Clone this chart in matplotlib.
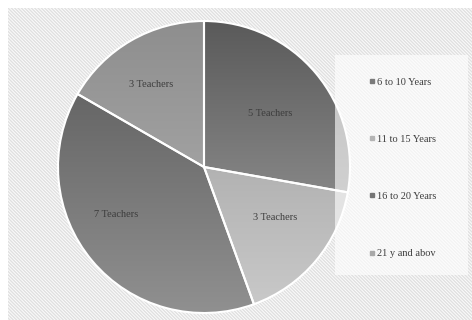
import numpy as np
import matplotlib
matplotlib.use('Agg')
import matplotlib.pyplot as plt
from matplotlib.patches import Rectangle
from matplotlib.colors import LinearSegmentedColormap

# data
categories = ['6 to 10 Years', '11 to 15 Years', '16 to 20 Years', '21 y and abov']
teachers = [5, 3, 7, 3]
labels = ['5 Teachers', '3 Teachers', '7 Teachers', '3 Teachers']
# top / bottom shades of the gradient fill for each slice
top_colors = ['#5a5a5a', '#9a9a9a', '#585858', '#8e8e8e']
bottom_colors = ['#a4a4a4', '#cacaca', '#909090', '#b4b4b4']
legend_colors = ['#7a7a7a', '#b4b4b4', '#747474', '#a8a8a8']
# small nudges of the slice labels (axes units)
label_shift = [(-0.02, -0.03), (0.01, 0.05), (-0.13, 0.07), (-0.05, 0.03)]

plt.rcParams['font.family'] = ['Liberation Serif', 'DejaVu Serif']
plt.rcParams['hatch.linewidth'] = 1.0

fig = plt.figure(figsize=(4.72, 3.2), dpi=100)
fig.patch.set_facecolor('white')

# hatched chart area background
bg = fig.add_axes([0, 0, 1, 1], zorder=0)
bg.set_xlim(0, 472)
bg.set_ylim(320, 0)
bg.axis('off')
bg.add_patch(Rectangle((8, 8), 470, 320, facecolor='#fcfcfc', edgecolor='#e0e0e0',
                       linewidth=0, hatch='\\' * 10))

# pie
ax = fig.add_axes([58 / 472, 1 - 313 / 320, 292 / 472, 292 / 320], zorder=1)
wedges, texts = ax.pie(teachers, labels=labels, startangle=90, counterclock=False,
                       labeldistance=0.62, radius=1,
                       wedgeprops=dict(edgecolor='white', linewidth=1.5),
                       textprops=dict(fontsize=7.5, color='#3c3c3c'))
ax.set_xlim(-1, 1)
ax.set_ylim(-1, 1)
ax.set_aspect('equal')

for w, c0, c1 in zip(wedges, top_colors, bottom_colors):
    w.set_facecolor('none')
    cmap = LinearSegmentedColormap.from_list('g', [c1, c0])
    grad = np.linspace(0, 1, 256).reshape(-1, 1)
    im = ax.imshow(grad, extent=[-1, 1, -1, 1], origin='lower', cmap=cmap,
                   aspect='auto', zorder=0.5)
    im.set_clip_path(w)
    w.set_zorder(1)

for t, (dx, dy) in zip(texts, label_shift):
    x, y = t.get_position()
    t.set_position((x + dx, y + dy))
    t.set_ha('center')
    t.set_va('center')

# legend box
ov = fig.add_axes([0, 0, 1, 1], zorder=2)
ov.set_xlim(0, 472)
ov.set_ylim(320, 0)
ov.axis('off')
ov.patch.set_alpha(0)
ov.add_patch(Rectangle((335, 55), 133, 220, facecolor='white', alpha=0.62,
                       edgecolor='none'))

handles = [plt.Line2D([], [], marker='s', linestyle='none', markersize=3,
                      markerfacecolor=c, markeredgecolor=c) for c in legend_colors]
leg = fig.legend(handles, categories, loc='upper left',
                 bbox_to_anchor=(357 / 472, 1 - 68 / 320), frameon=False,
                 fontsize=7.5, labelspacing=4.6, handletextpad=0.0,
                 handlelength=1.0, labelcolor='#3c3c3c')
leg.set_zorder(3)

fig.savefig('out.png', dpi=100)
